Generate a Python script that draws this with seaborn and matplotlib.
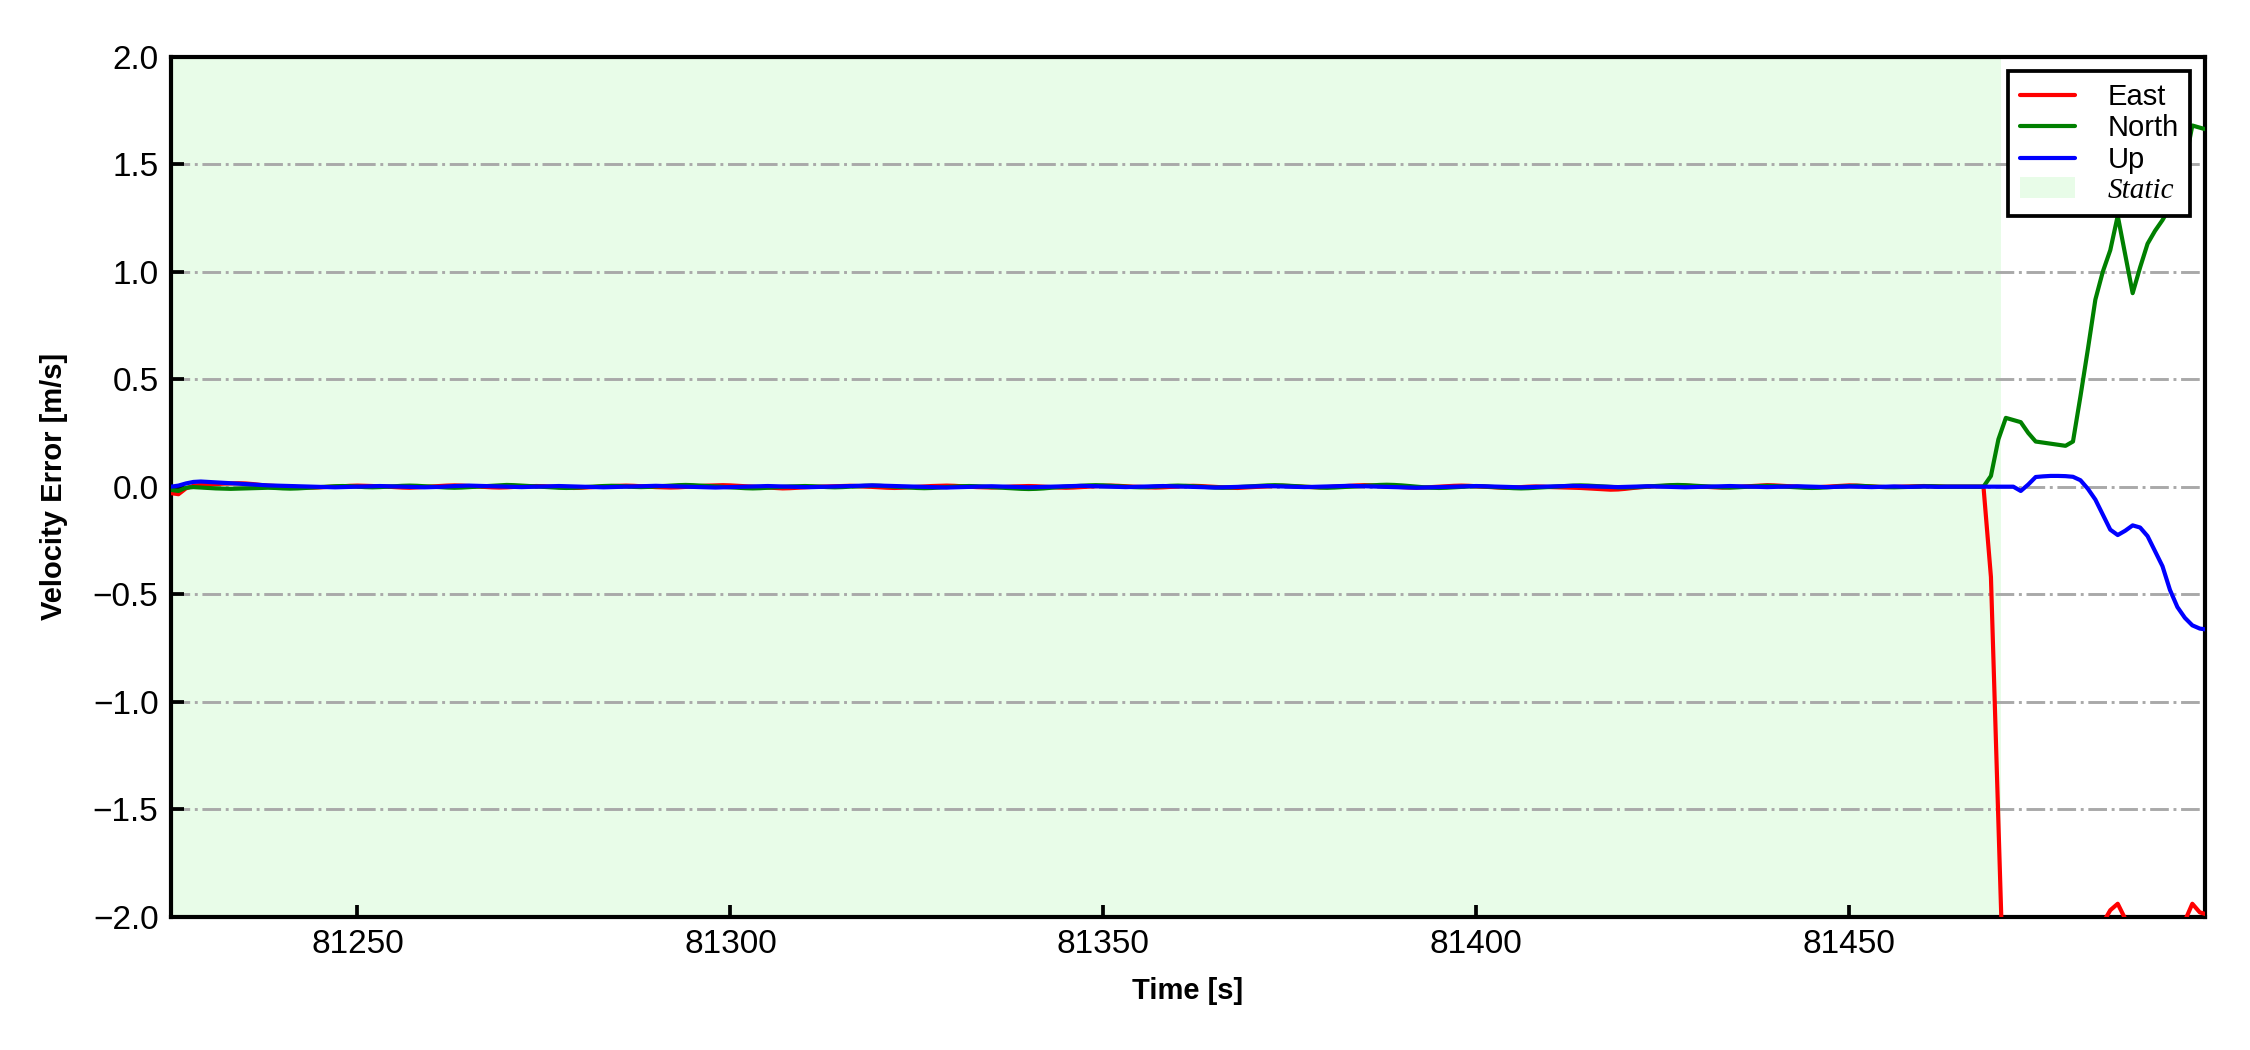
import numpy as np
import pandas as pd
import seaborn as sns
import matplotlib.pyplot as plt
from matplotlib.patches import Patch
from matplotlib.lines import Line2D

# time axis, 1 Hz epochs
t_start = 81225
t_end = 81498
static_end = 81470.4

# static period, velocity error in mm/s (near zero)
east_static_mm = [
    -30, -35, -8, 4, 8, 10, 12, 14, 15, 16,
    15, 12, 8, 5, 3, 2, 0, -2, -3, -4,
    -3, -1, 0, 2, 4, 5, 4, 3, 1, 0,
    -2, -4, -5, -3, -1, 1, 3, 5, 6, 5,
    3, 1, -1, -3, -4, -3, -1, 1, 2, 3,
    2, 0, -2, -4, -6, -5, -3, -1, 1, 3,
    4, 5, 4, 2, 0, -2, -3, -4, -3, -1,
    1, 3, 5, 6, 7, 6, 4, 2, 0, -2,
    -4, -6, -8, -7, -5, -3, -1, 0, 1, 2,
    3, 4, 3, 1, -1, -3, -5, -6, -5, -3,
    -1, 1, 3, 4, 5, 4, 2, 0, -2, -3,
    -4, -3, -1, 1, 2, 3, 2, 0, -2, -4,
    -5, -4, -2, 0, 2, 4, 5, 4, 2, 0,
    -1, -3, -4, -3, -1, 1, 3, 4, 3, 1,
    -1, -3, -5, -6, -4, -2, 0, 2, 3, 4,
    3, 1, -1, -2, -3, -2, 0, 2, 4, 6,
    7, 6, 4, 2, 0, -2, -4, -5, -4, -2,
    0, 2, 4, 5, 4, 2, 0, -2, -4, -6,
    -4, -2, 0, 1, 0, -2, -3, -4, -5, -6,
    -8, -10, -12, -14, -13, -10, -6, -3, 0, 2,
    3, 5, 6, 5, 3, 1, -1, -3, -4, -3,
    -1, 1, 3, 5, 7, 6, 4, 2, 0, -2,
    -3, -2, 0, 2, 4, 6, 5, 3, 1, -1,
    -2, -1, 0, 1, 2, 3, 2, 1, 0, 0,
    0, 0, 0,
]
north_static_mm = [
    -15, -20, -5, -2, -4, -6, -8, -9, -10, -9,
    -8, -7, -6, -5, -6, -8, -9, -8, -6, -4,
    -2, 0, 2, 3, 2, 0, -2, -3, -2, 0,
    2, 4, 5, 4, 2, 0, -2, -4, -5, -4,
    -2, 0, 2, 4, 6, 8, 7, 5, 3, 1,
    -1, -3, -5, -6, -5, -3, -1, 1, 3, 4,
    3, 1, -1, -2, -1, 1, 3, 5, 7, 8,
    7, 5, 3, 1, -1, -3, -5, -7, -8, -7,
    -5, -3, -1, 1, 2, 3, 2, 0, -2, -3,
    -2, 0, 2, 4, 5, 4, 2, 0, -2, -4,
    -6, -7, -6, -4, -2, 0, 2, 3, 2, 0,
    -2, -4, -6, -8, -10, -11, -10, -8, -5, -2,
    0, 2, 4, 6, 7, 6, 4, 2, 0, -2,
    -3, -2, 0, 2, 4, 5, 4, 2, 0, -2,
    -4, -5, -4, -2, 0, 2, 4, 6, 7, 6,
    4, 2, 0, -2, -4, -5, -4, -2, 0, 2,
    4, 6, 8, 9, 8, 6, 3, 0, -3, -5,
    -6, -5, -3, -1, 1, 2, 1, -1, -3, -5,
    -7, -8, -7, -5, -3, -1, 1, 3, 5, 6,
    5, 3, 1, -1, -3, -4, -3, -1, 1, 3,
    5, 7, 8, 7, 5, 3, 1, -1, -3, -4,
    -3, -1, 1, 3, 4, 3, 1, -1, -3, -5,
    -6, -5, -3, -1, 1, 3, 4, 3, 1, -1,
    -2, -3, -2, -1, 0, 1, 2, 1, 0, 0,
    0, 0, 0,
]
up_static_mm = [
    0, 5, 15, 22, 24, 22, 20, 18, 16, 14,
    12, 10, 8, 6, 5, 4, 3, 2, 1, 0,
    -1, -2, -3, -2, -1, 0, 1, 2, 3, 2,
    1, 0, -1, -2, -3, -2, -1, 1, 3, 4,
    5, 4, 3, 2, 1, 0, -1, -2, -1, 0,
    1, 2, 3, 2, 1, 0, -1, -2, -3, -2,
    -1, 0, 1, 2, 3, 4, 3, 2, 1, 0,
    -1, -2, -3, -4, -3, -2, -1, 0, 1, 2,
    3, 2, 1, 0, -1, -2, -2, -1, 0, 1,
    2, 3, 4, 5, 6, 5, 4, 3, 2, 1,
    0, -1, -2, -3, -4, -3, -2, -1, 0, 1,
    2, 1, 0, -1, -2, -3, -2, -1, 0, 1,
    2, 3, 4, 3, 2, 1, 0, -1, -2, -1,
    0, 1, 2, 3, 2, 1, 0, -1, -2, -3,
    -4, -3, -2, -1, 0, 1, 2, 3, 2, 1,
    0, -1, -2, -1, 0, 1, 2, 3, 4, 3,
    2, 1, 0, -1, -2, -3, -4, -5, -4, -3,
    -2, -1, 0, 1, 2, 3, 2, 1, 0, -1,
    -2, -3, -2, -1, 0, 1, 2, 3, 4, 3,
    2, 1, 0, -1, -2, -1, 0, 1, 2, 1,
    0, -1, -2, -3, -2, -1, 0, 1, 2, 3,
    2, 1, 0, -1, -2, -1, 0, 1, 2, 1,
    0, -1, -2, -1, 0, 1, 0, -1, -2, -1,
    0, 1, 0, -1, 0, 1, 0, -1, 0, 0,
    0, 0, 0,
]

# after the static period, m/s (81468 .. 81498)
east_moving = [0.00, -0.42, -1.56, -2.70, -3.10, -3.30, -3.20, -3.00, -2.80, -2.60,
               -2.40, -2.30, -2.20, -2.15, -2.10, -2.06, -2.03, -1.97, -1.94, -2.01,
               -2.10, -2.15, -2.20, -2.20, -2.15, -2.10, -2.05, -2.02, -1.94, -1.98,
               -1.99]
north_moving = [0.00, 0.05, 0.22, 0.32, 0.31, 0.30, 0.25, 0.21, 0.205, 0.20,
                0.195, 0.19, 0.21, 0.42, 0.64, 0.87, 1.00, 1.10, 1.26, 1.08,
                0.90, 1.02, 1.13, 1.19, 1.24, 1.30, 1.38, 1.50, 1.68, 1.67,
                1.66]
up_moving = [0.00, 0.00, 0.00, 0.00, 0.00, -0.02, 0.01, 0.045, 0.048, 0.05,
             0.05, 0.049, 0.046, 0.03, -0.01, -0.06, -0.13, -0.20, -0.225, -0.205,
             -0.18, -0.19, -0.23, -0.30, -0.37, -0.48, -0.56, -0.61, -0.645, -0.66,
             -0.665]

labels = ['East', 'North', 'Up']
colors = {'East': 'red', 'North': 'green', 'Up': 'blue'}

times = np.arange(t_start, t_end + 1)
east = [v / 1000 for v in east_static_mm] + east_moving
north = [v / 1000 for v in north_static_mm] + north_moving
up = [v / 1000 for v in up_static_mm] + up_moving

df = pd.DataFrame({'Time': times, 'East': east, 'North': north, 'Up': up})
df = df.melt(id_vars='Time', var_name='Axis', value_name='Error')

sns.set_style('ticks')
plt.rcParams['font.family'] = ['Liberation Sans', 'DejaVu Sans']
plt.rcParams['text.color'] = 'black'
plt.rcParams['axes.labelcolor'] = 'black'
plt.rcParams['xtick.color'] = 'black'
plt.rcParams['ytick.color'] = 'black'

fig, ax = plt.subplots(figsize=(7.5, 3.5), dpi=300)
fig.subplots_adjust(left=0.076, right=0.980, top=0.946, bottom=0.127)

ax.axvspan(t_start, static_end, color='#e8fce8', lw=0, zorder=0)
sns.lineplot(data=df, x='Time', y='Error', hue='Axis', palette=colors,
             linewidth=1.0, ax=ax, legend=False, zorder=3)

ax.set_xlim(t_start, 81497.7)
ax.set_ylim(-2, 2)
ax.set_yticks(np.arange(-2, 2.01, 0.5))
ax.grid(axis='y', color='#a9a9a9', linestyle='-.', linewidth=0.7)
ax.set_axisbelow(True)

ax.tick_params(direction='in', length=3, width=0.9, labelsize=8, pad=3)
for s in ax.spines.values():
    s.set_linewidth(1.0)
    s.set_color('black')

ax.set_xlabel('Time [s]', fontsize=7, fontweight='bold', labelpad=4)
ax.set_ylabel('Velocity Error [m/s]', fontsize=7, fontweight='bold', labelpad=6)

handles = [Line2D([], [], color=colors[k], lw=1.0) for k in labels]
handles.append(Patch(facecolor='#e8fce8', edgecolor='none'))
leg = ax.legend(handles, labels + ['Static'], loc='upper right', fontsize=7,
                frameon=True, fancybox=False, framealpha=1, edgecolor='black',
                borderpad=0.4, labelspacing=0.12, handlelength=1.9,
                handletextpad=1.1, borderaxespad=0.5)
leg.get_frame().set_linewidth(0.9)
leg.get_texts()[3].set_fontfamily('Liberation Serif')
leg.get_texts()[3].set_fontstyle('italic')

plt.savefig('out.png', dpi=300)
